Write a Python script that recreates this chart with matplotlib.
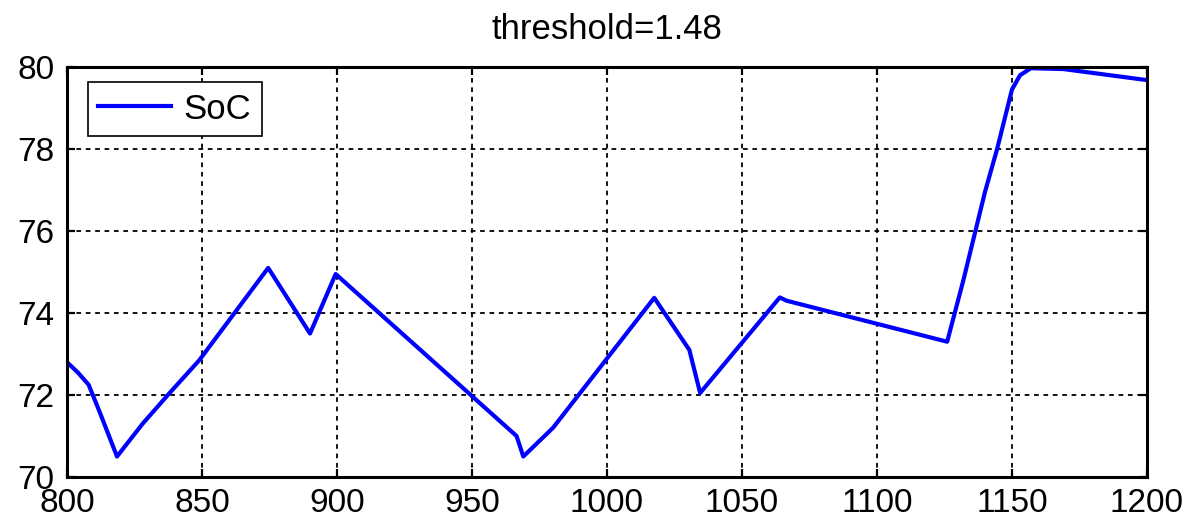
import matplotlib
matplotlib.use("Agg")
import matplotlib.pyplot as plt

# State-of-charge trace over the time window
time = [800, 804, 808, 812, 818.5, 828, 838, 849, 874.5, 890, 899.5,
        966.5, 969, 980, 1017.5, 1030.5, 1034.5, 1064, 1066.5, 1126,
        1132, 1140, 1144.5, 1150, 1153, 1157, 1169, 1200]
soc = [72.8, 72.55, 72.25, 71.6, 70.5, 71.3, 72.05, 72.85, 75.1, 73.5, 74.95,
       71.0, 70.5, 71.2, 74.37, 73.1, 72.05, 74.38, 74.3, 73.3,
       74.8, 76.95, 78.0, 79.45, 79.8, 79.97, 79.95, 79.68]

x_ticks = [800, 850, 900, 950, 1000, 1050, 1100, 1150, 1200]
y_ticks = [70, 72, 74, 76, 78, 80]
series_label = "SoC"
title_text = "threshold=1.48"

plt.rcParams["font.family"] = ["Liberation Sans", "DejaVu Sans"]

fig = plt.figure(figsize=(11.93, 5.25), dpi=100)
ax = fig.add_axes([0.0562, 0.0914, 0.9052, 0.781])

ax.plot(time, soc, color="#0000ff", linewidth=3.0, label=series_label,
        solid_joinstyle="round", zorder=3)

ax.set_xlim(800, 1200)
ax.set_ylim(70, 80)
ax.set_xticks(x_ticks)
ax.set_yticks(y_ticks)
ax.tick_params(axis="both", direction="in", length=6, width=1.6,
               labelsize=24, top=True, right=True, color="black")
ax.tick_params(axis="y", pad=9)
ax.tick_params(axis="x", pad=8)

ax.grid(True, color="black", linestyle=(0, (2.6, 2.6)), linewidth=1.3)
ax.set_axisbelow(False)
for spine in ax.spines.values():
    spine.set_linewidth(2.2)
    spine.set_color("black")
    spine.set_zorder(4)

ax.set_title(title_text, fontsize=25, pad=20)

leg = ax.legend(loc="upper left", bbox_to_anchor=(0.0194, 0.963),
                borderaxespad=0, fontsize=25, handlelength=2.1,
                handletextpad=0.35, borderpad=0.3, fancybox=False,
                framealpha=1, edgecolor="black")
leg.get_frame().set_linewidth(1.2)
leg.set_zorder(5)

fig.savefig("out.png", dpi=100)
